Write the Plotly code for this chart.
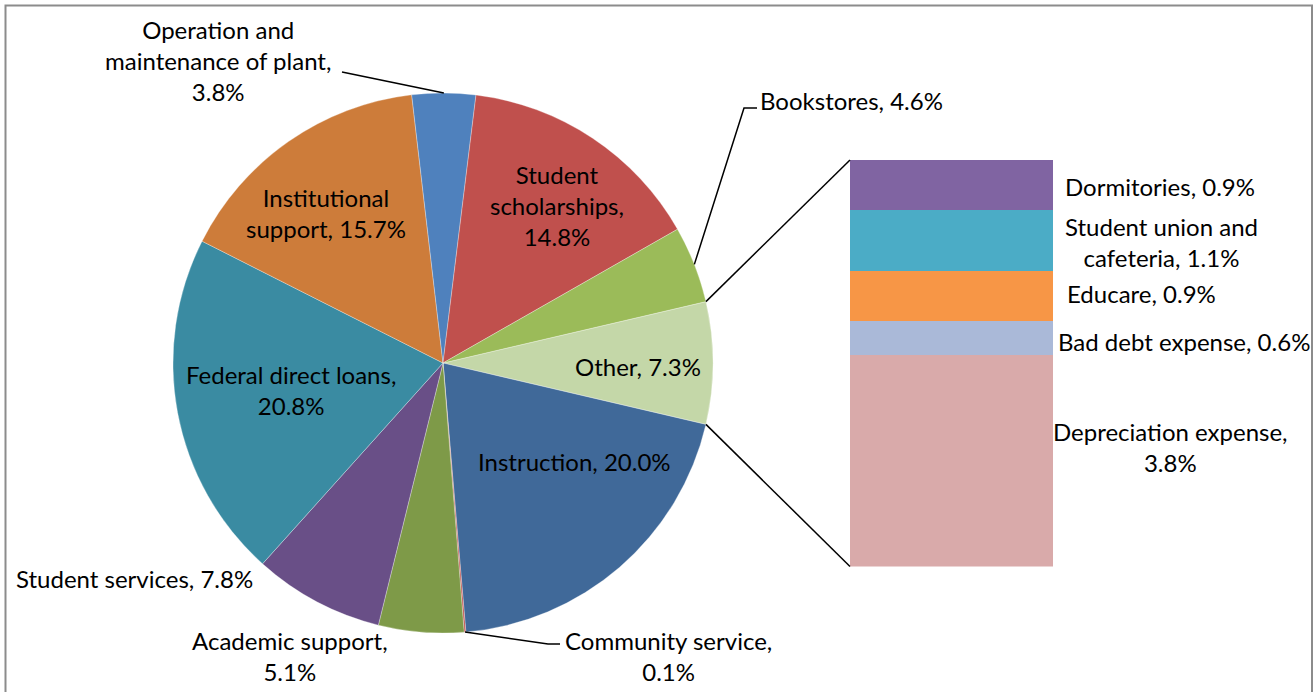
import math
import plotly.graph_objects as go

W, H = 1315, 692

# ---------------- data ----------------
pie_labels = ["Other", "Instruction", "Community service", "Academic support",
              "Student services", "Federal direct loans", "Institutional support",
              "Operation and maintenance of plant", "Student scholarships", "Bookstores"]
pie_values = [7.3, 20.0, 0.1, 5.1, 7.8, 20.8, 15.7, 3.8, 14.8, 4.6]
pie_colors = ["#C4D7A8", "#406999", "#C0504D", "#7E9A48", "#694F87",
              "#3A8BA2", "#CD7C3A", "#4F81BD", "#C0504D", "#9BBB59"]

bar_labels = ["Depreciation expense", "Bad debt expense", "Educare",
              "Student union and cafeteria", "Dormitories"]
bar_values = [3.8, 0.6, 0.9, 1.1, 0.9]
bar_colors = ["#D9AAAA", "#AAB9D8", "#F79646", "#4BACC6", "#8064A2"]

# ---------------- geometry ----------------
CX, CY, R = 443, 363, 270          # pie centre / radius in px
BAR_X0, BAR_X1 = 850, 1053         # secondary bar in px
BAR_Y0, BAR_Y1 = 160, 566.5

def px(x):
    return x / W

def py(y):
    return 1 - y / H

total = sum(pie_values)
other_frac = pie_values[0] / total
rotation = 90 - other_frac * 180   # centre "Other" on 3 o'clock

def slice_angles(i):
    start = rotation + 360 * sum(pie_values[:i]) / total
    end = start + 360 * pie_values[i] / total
    return start, end

def edge_point(angle_deg, r=R):
    a = math.radians(angle_deg)
    return CX + r * math.sin(a), CY - r * math.cos(a)

fig = go.Figure()

fig.add_trace(go.Pie(
    labels=pie_labels, values=pie_values, sort=False, direction="clockwise",
    rotation=rotation, textinfo="none", hoverinfo="label+percent",
    marker=dict(colors=pie_colors, line=dict(color="rgba(255,255,255,0.5)", width=0.6)),
    domain=dict(x=[px(CX - R), px(CX + R)], y=[py(CY + R), py(CY - R)]),
    showlegend=False,
))

for lab, val, col in zip(bar_labels, bar_values, bar_colors):
    fig.add_trace(go.Bar(
        x=[0], y=[val], name=lab, marker=dict(color=col, line=dict(width=0)),
        width=1, xaxis="x", yaxis="y", showlegend=False,
    ))

fig.update_layout(
    width=W, height=H, margin=dict(l=0, r=0, t=0, b=0),
    paper_bgcolor="white", plot_bgcolor="rgba(0,0,0,0)",
    barmode="stack", bargap=0,
    xaxis=dict(domain=[px(BAR_X0), px(BAR_X1)], range=[-0.5, 0.5], visible=False, fixedrange=True),
    yaxis=dict(domain=[py(BAR_Y1), py(BAR_Y0)], range=[0, sum(bar_values)], visible=False, fixedrange=True),
    font=dict(family="Lato", size=24, color="black"),
)

shapes = []
line_style = dict(color="black", width=1.5)

# connectors from "Other" slice to the bar
o_start, o_end = slice_angles(0)
p_top = edge_point(o_start)
p_bot = edge_point(o_end)
shapes.append(dict(type="line", xref="paper", yref="paper",
                   x0=px(p_top[0]), y0=py(p_top[1]), x1=px(BAR_X0), y1=py(BAR_Y0), line=line_style))
shapes.append(dict(type="line", xref="paper", yref="paper",
                   x0=px(p_bot[0]), y0=py(p_bot[1]), x1=px(BAR_X0), y1=py(BAR_Y1), line=line_style))

def leader(points):
    path = "M " + " L ".join(f"{px(x)},{py(y)}" for x, y in points)
    shapes.append(dict(type="path", xref="paper", yref="paper", path=path, line=line_style))

def mid_point(i):
    s, e = slice_angles(i)
    return edge_point((s + e) / 2)

# Operation and maintenance of plant
leader([(342, 72), mid_point(7)])
# Bookstores
leader([(757, 108), (744, 108), mid_point(9)])
# Community service
leader([mid_point(2), (548, 644), (560, 644)])

# chart border
shapes.append(dict(type="rect", xref="paper", yref="paper",
                   x0=px(5.5), y0=py(5.5), x1=px(1312), y1=py(705),
                   line=dict(color="#8C8C8C", width=2), fillcolor="rgba(0,0,0,0)"))

fig.update_layout(shapes=shapes)

def pct(v):
    return f"{v:.1f}%"

ann = []
def add(text, x, y, xanchor="center"):
    ann.append(dict(text=text, x=px(x), y=py(y), xref="paper", yref="paper",
                    xanchor=xanchor, yanchor="middle", showarrow=False, align="center"))

add(f"Operation and<br>maintenance of plant,<br>{pct(pie_values[7])}", 218, 61)
add(f"Bookstores, {pct(pie_values[9])}", 758, 101, "left")
add(f"Student<br>scholarships,<br>{pct(pie_values[8])}", 557, 206)
add(f"Institutional<br>support, {pct(pie_values[6])}", 326, 213)
add(f"Federal direct loans,<br>{pct(pie_values[5])}", 291, 390)
add(f"Other, {pct(pie_values[0])}", 638, 366)
add(f"Instruction, {pct(pie_values[1])}", 574, 461)
add(f"Student services, {pct(pie_values[4])}", 134, 578)
add(f"Academic support,<br>{pct(pie_values[3])}", 290, 656)
add(f"Community service,<br>{pct(pie_values[2])}", 668, 656)

add(f"Dormitories, {pct(bar_values[4])}", 1160, 186)
add(f"Student union and<br>cafeteria, {pct(bar_values[3])}", 1161, 242)
add(f"Educare, {pct(bar_values[2])}", 1141, 293)
add(f"Bad debt expense, {pct(bar_values[1])}", 1184, 342)
add(f"Depreciation expense,<br>{pct(bar_values[0])}", 1170, 447)

fig.update_layout(annotations=ann)

fig.write_html("out.html", config={"displayModeBar": False},
               post_script="document.body.style.margin='0px';")
